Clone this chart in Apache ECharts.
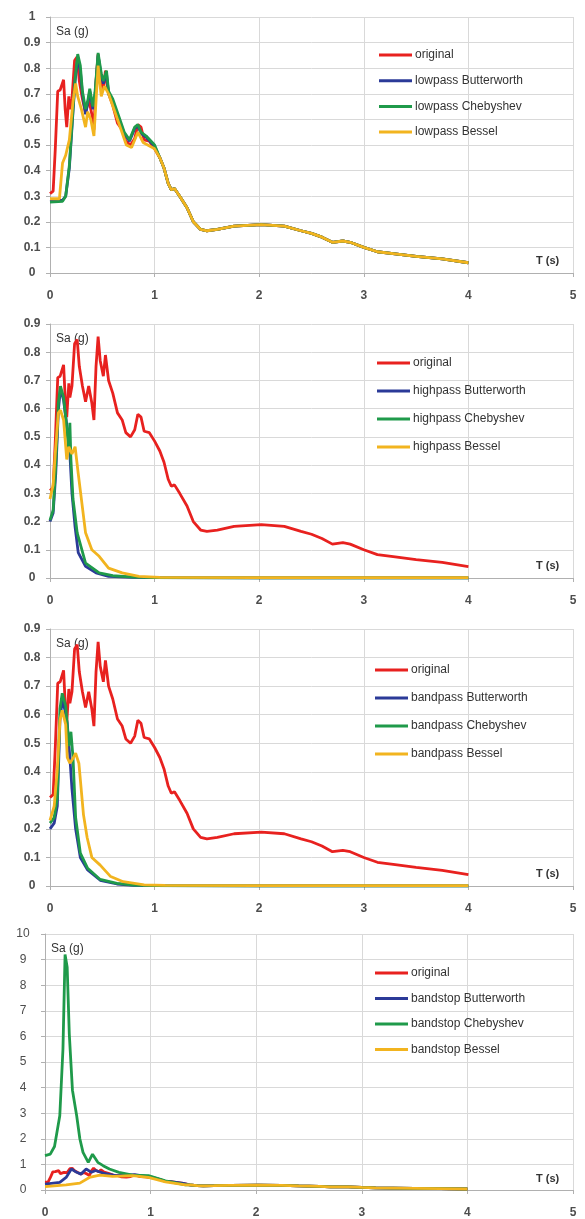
<!DOCTYPE html>
<html>
<head>
<meta charset="utf-8">
<script src="https://cdn.jsdelivr.net/npm/echarts@6/dist/echarts.min.js"></script>
<style>
  html, body { margin: 0; padding: 0; background: #fff; }
  #chart { width: 585px; height: 1219px; }
</style>
</head>
<body>
<div id="chart"></div>
<script>
// original spectrum (same in every panel)
var origT = [0, 0.03, 0.05, 0.074, 0.097, 0.13, 0.145, 0.16, 0.18, 0.19, 0.21, 0.235, 0.26, 0.28, 0.31, 0.34, 0.37, 0.40, 0.42, 0.44, 0.46, 0.48, 0.51, 0.53, 0.56, 0.60, 0.645, 0.69, 0.725, 0.77, 0.81, 0.84, 0.87, 0.90, 0.95, 1.0, 1.05, 1.09, 1.13, 1.16, 1.19, 1.24, 1.31, 1.37, 1.44, 1.5, 1.6, 1.76, 2.02, 2.24, 2.4, 2.5, 2.6, 2.7, 2.8, 2.87, 3.0, 3.13, 3.3, 3.5, 3.75, 4.0];
var origSa = [0.31, 0.32, 0.48, 0.71, 0.715, 0.755, 0.64, 0.57, 0.69, 0.64, 0.68, 0.83, 0.845, 0.75, 0.68, 0.625, 0.68, 0.62, 0.56, 0.75, 0.855, 0.77, 0.715, 0.79, 0.70, 0.655, 0.585, 0.56, 0.515, 0.50, 0.525, 0.58, 0.57, 0.52, 0.515, 0.485, 0.45, 0.41, 0.35, 0.325, 0.33, 0.30, 0.255, 0.20, 0.17, 0.165, 0.17, 0.183, 0.189, 0.183, 0.165, 0.155, 0.14, 0.12, 0.125, 0.12, 0.10, 0.083, 0.075, 0.065, 0.055, 0.04];

// lowpass (follow the original after the last point)
var lpButterT = [0, 0.12, 0.15, 0.185, 0.22, 0.24, 0.265, 0.29, 0.31, 0.34, 0.36, 0.38, 0.41, 0.43, 0.46, 0.49, 0.51, 0.54, 0.56, 0.6, 0.66, 0.71, 0.76, 0.81, 0.84, 0.87, 0.92, 1.0];
var lpButterSa = [0.28, 0.285, 0.30, 0.41, 0.63, 0.75, 0.84, 0.79, 0.70, 0.62, 0.66, 0.71, 0.64, 0.69, 0.85, 0.77, 0.74, 0.78, 0.70, 0.67, 0.60, 0.545, 0.515, 0.565, 0.575, 0.545, 0.53, 0.495];
var lpChebT = [0, 0.12, 0.15, 0.185, 0.22, 0.24, 0.265, 0.29, 0.31, 0.34, 0.36, 0.38, 0.41, 0.43, 0.46, 0.49, 0.51, 0.54, 0.56, 0.6, 0.66, 0.71, 0.76, 0.81, 0.84, 0.87, 0.92, 1.0];
var lpChebSa = [0.277, 0.28, 0.30, 0.42, 0.64, 0.76, 0.855, 0.81, 0.71, 0.64, 0.67, 0.72, 0.65, 0.705, 0.86, 0.78, 0.75, 0.79, 0.71, 0.68, 0.61, 0.55, 0.52, 0.57, 0.58, 0.55, 0.535, 0.50];
var lpBesselT = [0, 0.09, 0.12, 0.15, 0.185, 0.22, 0.245, 0.265, 0.30, 0.34, 0.36, 0.39, 0.42, 0.46, 0.49, 0.52, 0.56, 0.62, 0.73, 0.78, 0.84, 0.89, 1.0];
var lpBesselSa = [0.29, 0.29, 0.43, 0.46, 0.52, 0.67, 0.74, 0.69, 0.64, 0.57, 0.63, 0.60, 0.535, 0.81, 0.69, 0.73, 0.70, 0.63, 0.50, 0.49, 0.55, 0.51, 0.485];

// highpass
var hpButterT = [0, 0.03, 0.055, 0.08, 0.1, 0.13, 0.145, 0.18, 0.19, 0.21, 0.24, 0.27, 0.34, 0.44, 0.56, 0.8, 1.0, 2.0, 4.0];
var hpButterSa = [0.20, 0.23, 0.37, 0.595, 0.67, 0.63, 0.585, 0.49, 0.44, 0.30, 0.18, 0.09, 0.041, 0.018, 0.006, 0.002, 0.001, 0, 0];
var hpChebT = [0, 0.03, 0.055, 0.08, 0.1, 0.13, 0.15, 0.18, 0.19, 0.2, 0.22, 0.26, 0.34, 0.47, 0.6, 0.8, 1.0, 2.0, 4.0];
var hpChebSa = [0.205, 0.24, 0.40, 0.62, 0.68, 0.64, 0.57, 0.45, 0.55, 0.42, 0.28, 0.16, 0.053, 0.018, 0.008, 0.003, 0.001, 0, 0];
var hpBesselT = [0, 0.03, 0.05, 0.08, 0.1, 0.13, 0.145, 0.16, 0.18, 0.21, 0.24, 0.27, 0.34, 0.4, 0.47, 0.56, 0.69, 0.85, 1.05, 2.0, 4.0];
var hpBesselSa = [0.28, 0.33, 0.44, 0.585, 0.595, 0.56, 0.49, 0.42, 0.465, 0.44, 0.465, 0.37, 0.16, 0.10, 0.077, 0.035, 0.018, 0.006, 0.002, 0.001, 0.001];

// bandpass
var bpButterT = [0, 0.04, 0.07, 0.095, 0.117, 0.14, 0.165, 0.19, 0.21, 0.245, 0.29, 0.36, 0.48, 0.64, 0.8, 1.0, 2.0, 4.0];
var bpButterSa = [0.20, 0.22, 0.28, 0.58, 0.65, 0.62, 0.57, 0.45, 0.34, 0.20, 0.10, 0.056, 0.02, 0.007, 0.002, 0.001, 0, 0];
var bpChebT = [0, 0.04, 0.07, 0.095, 0.117, 0.15, 0.18, 0.2, 0.22, 0.245, 0.29, 0.36, 0.48, 0.64, 0.8, 1.0, 2.0, 4.0];
var bpChebSa = [0.22, 0.24, 0.31, 0.62, 0.675, 0.63, 0.49, 0.54, 0.45, 0.24, 0.115, 0.062, 0.023, 0.009, 0.003, 0.001, 0, 0];
var bpBesselT = [0, 0.04, 0.07, 0.095, 0.117, 0.15, 0.165, 0.19, 0.22, 0.245, 0.276, 0.32, 0.355, 0.40, 0.48, 0.58, 0.70, 0.9, 1.1, 2.0, 4.0];
var bpBesselSa = [0.23, 0.28, 0.41, 0.58, 0.615, 0.565, 0.45, 0.43, 0.447, 0.465, 0.43, 0.25, 0.17, 0.10, 0.073, 0.033, 0.015, 0.004, 0.002, 0.001, 0.001];

// bandstop (follow the original after the last point)
var bsButterT = [0, 0.1, 0.14, 0.2, 0.25, 0.3, 0.34, 0.39, 0.44, 0.48, 0.55, 0.67, 0.77, 0.85, 1.0];
var bsButterSa = [0.23, 0.28, 0.30, 0.49, 0.82, 0.69, 0.62, 0.82, 0.69, 0.76, 0.66, 0.56, 0.58, 0.60, 0.50];
var bsChebT = [0, 0.05, 0.09, 0.14, 0.17, 0.19, 0.21, 0.23, 0.26, 0.3, 0.33, 0.36, 0.41, 0.45, 0.5, 0.55, 0.61, 0.7, 0.83, 0.98, 1.14, 1.33];
var bsChebSa = [1.34, 1.4, 1.7, 2.9, 5.5, 9.2, 8.7, 6.1, 3.9, 2.9, 2.0, 1.47, 1.08, 1.4, 1.08, 0.95, 0.82, 0.69, 0.58, 0.56, 0.36, 0.20];
var bsBesselT = [0, 0.2, 0.33, 0.42, 0.52, 0.64, 0.83, 0.98, 1.14, 1.33];
var bsBesselSa = [0.13, 0.20, 0.27, 0.49, 0.58, 0.53, 0.56, 0.49, 0.32, 0.20];

var panelMax = [1, 0.9, 0.9, 10];
var panelInterval = [0.1, 0.1, 0.1, 1];
var filterNames = ['lowpass', 'highpass', 'bandpass', 'bandstop'];
var methodNames = ['Butterworth', 'Chebyshev', 'Bessel'];

var RED = '#e8211f', BLUE = '#2b3a98', GREEN = '#1f9a4a', YELLOW = '#f2b41f';
var textCol = '#4d4d4d';
var font = 'Liberation Sans';

function pairs(t, v) {
    return t.map(function (x, i) { return [x, v[i]]; });
}
// head values, then the original curve where the filtered one joins it
function withTail(t, v) {
    var d = pairs(t, v);
    var last = t[t.length - 1];
    for (var i = 0; i < origT.length; i++) {
        if (origT[i] > last) d.push([origT[i], origSa[i]]);
    }
    return d;
}

var panelData = [
    [withTail(lpButterT, lpButterSa), withTail(lpChebT, lpChebSa), withTail(lpBesselT, lpBesselSa)],
    [pairs(hpButterT, hpButterSa), pairs(hpChebT, hpChebSa), pairs(hpBesselT, hpBesselSa)],
    [pairs(bpButterT, bpButterSa), pairs(bpChebT, bpChebSa), pairs(bpBesselT, bpBesselSa)],
    [withTail(bsButterT, bsButterSa), withTail(bsChebT, bsChebSa), withTail(bsBesselT, bsBesselSa)]
];

// layout of the four stacked panels
var grids = [
    {left: 50, top: 17, width: 523, height: 256},
    {left: 50, top: 324, width: 523, height: 254},
    {left: 50, top: 629, width: 523, height: 257},
    {left: 45, top: 934, width: 528, height: 257}
];
var legendPos = [
    {left: 379, top: 48, gap: 11.7},
    {left: 377, top: 356, gap: 14},
    {left: 375, top: 663, gap: 14},
    {left: 375, top: 966, gap: 11.5}
];
var yLabelMargin = [18, 18, 18, 22];

var option = {
    animation: false,
    backgroundColor: '#fff',
    grid: grids,
    xAxis: [],
    yAxis: [],
    legend: [],
    series: [],
    graphic: []
};

grids.forEach(function (g, p) {
    option.xAxis.push({
        type: 'value', gridIndex: p, min: 0, max: 5, interval: 1,
        axisLine: {show: true, lineStyle: {color: '#b0b0b0'}},
        axisTick: {show: true, length: 4, lineStyle: {color: '#b0b0b0'}},
        axisLabel: {margin: 17, color: textCol, fontSize: 12, fontWeight: 'bold', fontFamily: font},
        splitLine: {show: true, lineStyle: {color: '#d9d9d9'}}
    });
    option.yAxis.push({
        type: 'value', gridIndex: p, min: 0, max: panelMax[p], interval: panelInterval[p],
        axisLine: {show: true, lineStyle: {color: '#b0b0b0'}},
        axisTick: {show: true, length: 4, lineStyle: {color: '#b0b0b0'}},
        axisLabel: {margin: yLabelMargin[p], align: 'center', color: textCol, fontSize: 12,
            fontWeight: p == 3 ? 'normal' : 'bold', fontFamily: font},
        splitLine: {show: true, lineStyle: {color: '#d9d9d9'}}
    });

    var names = ['original'];
    methodNames.forEach(function (m) { names.push(filterNames[p] + ' ' + m); });
    var lp = legendPos[p];
    option.legend.push({
        data: names, orient: 'vertical', left: lp.left, top: lp.top,
        icon: 'rect', itemWidth: 33, itemHeight: 3, itemGap: lp.gap,
        selectedMode: false, padding: 0,
        textStyle: {fontSize: 12, lineHeight: 14, color: '#333', fontFamily: font, padding: [0, 0, 0, -2]}
    });

    var colors = [RED, BLUE, GREEN, YELLOW];
    var lists = [pairs(origT, origSa)].concat(panelData[p]);
    lists.forEach(function (d, k) {
        option.series.push({
            name: names[k], type: 'line', xAxisIndex: p, yAxisIndex: p,
            data: d, showSymbol: false, symbol: 'none',
            lineStyle: {color: colors[k], width: 2.8},
            itemStyle: {color: colors[k]}
        });
    });

    option.graphic.push({
        type: 'text', left: g.left + 6, top: g.top + 9,
        style: {text: 'Sa (g)', fill: '#333', font: '12px ' + font}
    });
    option.graphic.push({
        type: 'text', left: 536, top: g.top + g.height - 18,
        style: {text: 'T (s)', fill: '#333', font: 'bold 11px ' + font}
    });
});

var myChart = echarts.init(document.getElementById('chart'));
myChart.setOption(option);
</script>
</body>
</html>
